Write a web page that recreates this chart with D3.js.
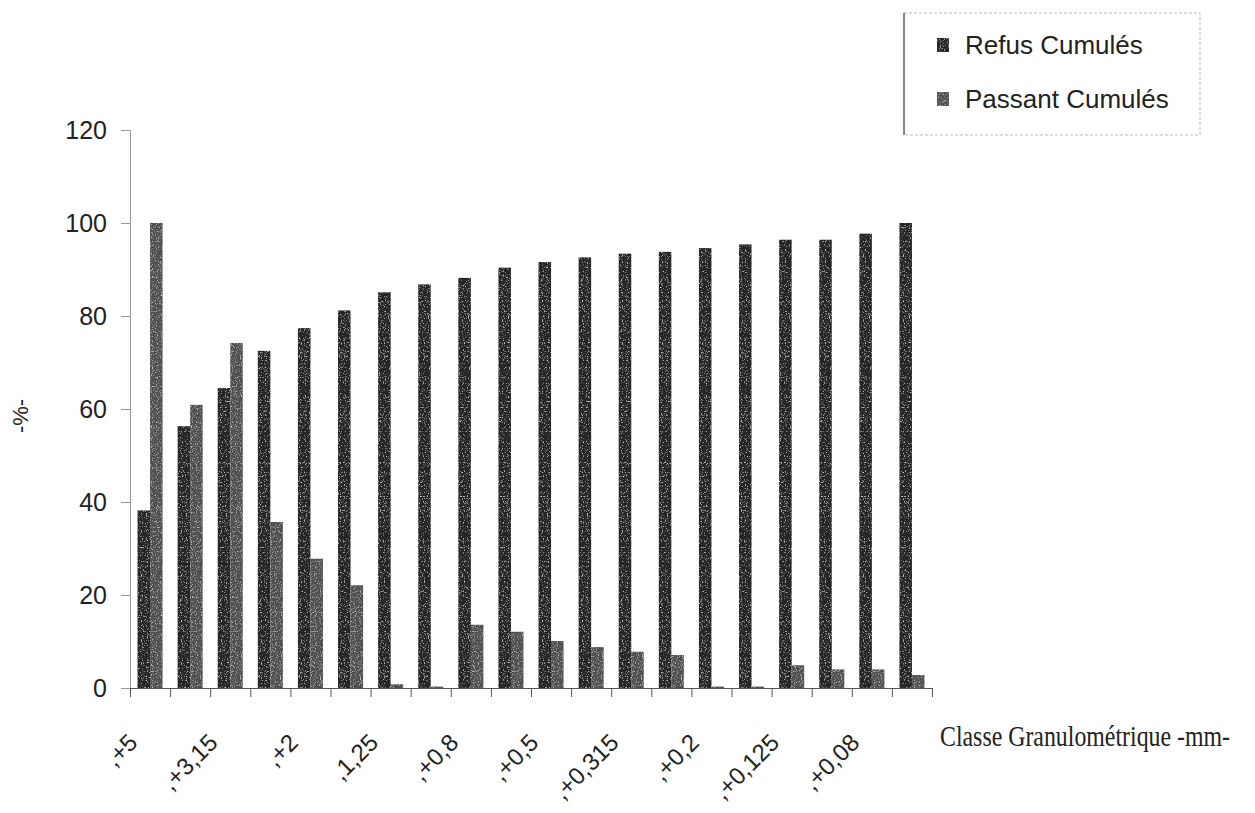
<!DOCTYPE html>
<html>
<head>
<meta charset="utf-8">
<script src="https://cdn.jsdelivr.net/npm/d3@7"></script>
<style>
  html, body { margin: 0; padding: 0; background: #fff; }
  svg { display: block; }
</style>
</head>
<body>
<svg id="chart" width="1255" height="813"></svg>
<script>
// Sieve classes (mm); Excel-style labels, every second one printed on the axis
const categories = [",+5", ",+4", ",+3,15", ",+2,5", ",+2", ",+1,6", ",1,25", ",+1",
  ",+0,8", ",+0,63", ",+0,5", ",+0,4", ",+0,315", ",+0,25", ",+0,2", ",+0,16",
  ",+0,125", ",+0,1", ",+0,08", ",-0,08"];
// Cumulative retained (%)
const refusCumules = [38.2, 56.3, 64.5, 72.5, 77.4, 81.2, 85.1, 86.8, 88.2, 90.4,
  91.6, 92.6, 93.4, 93.8, 94.6, 95.4, 96.4, 96.4, 97.7, 100];
// Cumulative passing (%)
const passantCumules = [100, 60.9, 74.2, 35.7, 27.8, 22.1, 0.8, 0.3, 13.6, 12.1,
  10.1, 8.8, 7.8, 7.1, 0.3, 0.3, 4.9, 4.0, 4.0, 2.8];
const seriesNames = ["Refus Cumulés", "Passant Cumulés"];
const yTicks = [0, 20, 40, 60, 80, 100, 120];

const svg = d3.select("#chart");
const plotLeft = 130, plotRight = 932, plotTop = 130, plotBottom = 688;

// grainy fills for the bars
const defs = svg.append("defs");
function grain(id, seed, freq, k, b) {
  const f = defs.append("filter").attr("id", id)
    .attr("x", 0).attr("y", 0).attr("width", "100%").attr("height", "100%");
  f.append("feTurbulence").attr("type", "fractalNoise").attr("baseFrequency", freq)
    .attr("numOctaves", 2).attr("seed", seed).attr("result", "noise");
  f.append("feColorMatrix").attr("in", "noise").attr("type", "matrix")
    .attr("values", `0 0 0 0 0.85  0 0 0 0 0.85  0 0 0 0 0.85  ${k} 0 0 0 ${b}`).attr("result", "spk");
  f.append("feComposite").attr("in", "spk").attr("in2", "SourceGraphic")
    .attr("operator", "in").attr("result", "spk2");
  const m = f.append("feMerge");
  m.append("feMergeNode").attr("in", "SourceGraphic");
  m.append("feMergeNode").attr("in", "spk2");
}
grain("grainDark", 4, 0.8, 3.0, -1.75);
grain("grainLight", 9, 0.8, 2.2, -1.2);

const fills = ["#262626", "#505050"];
const filters = ["url(#grainDark)", "url(#grainLight)"];

const x0 = d3.scaleBand().domain(categories).range([plotLeft, plotRight])
  .paddingInner(0.375).paddingOuter(0.1875);
const x1 = d3.scaleBand().domain(seriesNames).range([0, x0.bandwidth()]);
const y = d3.scaleLinear().domain([0, 120]).range([plotBottom, plotTop]);
const xb = d3.scaleLinear().domain([0, categories.length]).range([plotLeft, plotRight]);

const rows = categories.map((c, i) => ({ cat: c, vals: [refusCumules[i], passantCumules[i]] }));

// bars
const groups = svg.append("g").selectAll("g").data(rows).join("g")
  .attr("transform", d => `translate(${x0(d.cat)},0)`);
groups.selectAll("rect").data(d => d.vals.map((v, j) => ({ v, j })))
  .join("rect")
  .attr("x", d => x1(seriesNames[d.j]))
  .attr("y", d => y(d.v))
  .attr("width", x1.bandwidth())
  .attr("height", d => y(0) - y(d.v))
  .attr("fill", d => fills[d.j])
  .attr("filter", d => filters[d.j]);

// y axis
const yAxis = svg.append("g").attr("transform", `translate(${plotLeft},0)`)
  .call(d3.axisLeft(y).tickValues(yTicks).tickSize(9).tickPadding(14));
yAxis.select(".domain").attr("stroke", "#999");
yAxis.selectAll(".tick line").attr("stroke", "#999");
yAxis.selectAll(".tick text")
  .attr("font-family", "Arial, 'Liberation Sans', sans-serif")
  .attr("font-size", 25).attr("fill", "#222");

// x axis (ticks on category boundaries)
const xAxis = svg.append("g").attr("transform", `translate(0,${plotBottom})`)
  .call(d3.axisBottom(xb).tickValues(d3.range(categories.length + 1)).tickSize(9)
    .tickFormat("").tickSizeOuter(0));
xAxis.select(".domain").attr("stroke", "#555");
xAxis.selectAll(".tick line").attr("stroke", "#555");

// category labels, rotated 45°
svg.append("g").selectAll("text")
  .data(categories.filter((c, i) => i % 2 === 0))
  .join("text")
  .attr("transform", d => `translate(${x0(d) + x0.bandwidth() / 2 - 11},744) rotate(-45)`)
  .attr("text-anchor", "end")
  .attr("font-family", "Arial, 'Liberation Sans', sans-serif")
  .attr("font-size", 24).attr("fill", "#222")
  .text(d => d);

// axis titles
svg.append("text")
  .attr("transform", "translate(940,746) scale(1,1.18)")
  .attr("font-family", "'Times New Roman', 'Liberation Serif', serif")
  .attr("font-size", 25).attr("fill", "#222")
  .attr("textLength", 290).attr("lengthAdjust", "spacingAndGlyphs")
  .text("Classe Granulométrique -mm-");

svg.append("text")
  .attr("transform", "translate(28,416) rotate(-90)")
  .attr("text-anchor", "middle")
  .attr("font-family", "Arial, 'Liberation Sans', sans-serif")
  .attr("font-size", 22).attr("fill", "#222")
  .text("-%-");

// legend
const lg = svg.append("g");
lg.append("rect").attr("x", 904).attr("y", 13).attr("width", 296).attr("height", 122)
  .attr("fill", "none").attr("stroke", "#bbb").attr("stroke-dasharray", "3,2");
lg.append("line").attr("x1", 904).attr("x2", 904).attr("y1", 13).attr("y2", 135)
  .attr("stroke", "#666").attr("stroke-width", 1.5);
const items = lg.selectAll("g.item").data(seriesNames).join("g")
  .attr("class", "item")
  .attr("transform", (d, i) => `translate(937,${45 + i * 54})`);
items.append("rect").attr("x", 0).attr("y", -7).attr("width", 12).attr("height", 14)
  .attr("fill", (d, i) => fills[i]).attr("filter", (d, i) => filters[i]);
items.append("text").attr("x", 28).attr("y", 9)
  .attr("font-family", "Arial, 'Liberation Sans', sans-serif")
  .attr("font-size", 26).attr("fill", "#222")
  .text(d => d);
</script>
</body>
</html>
